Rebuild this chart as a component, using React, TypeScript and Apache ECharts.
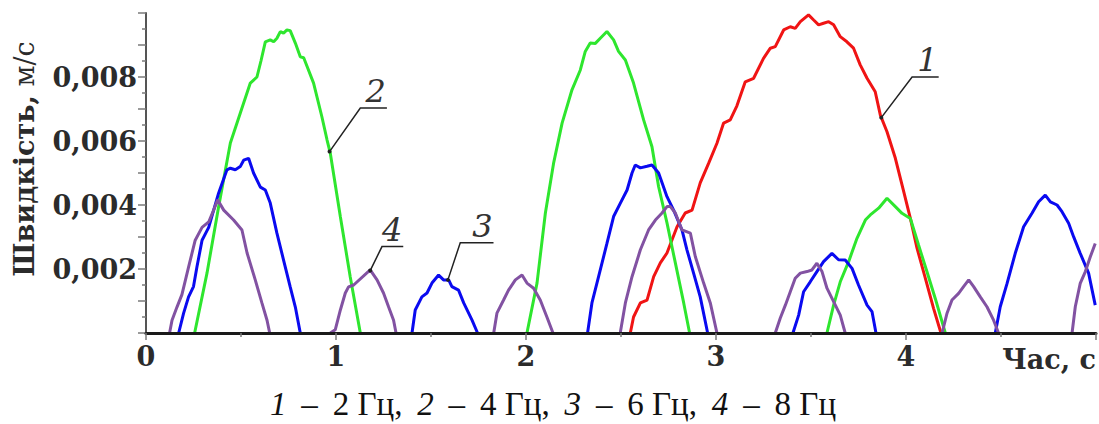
import React, { useEffect, useRef } from 'react';
import * as echarts from 'echarts';

// ---- Data (time, s / speed, m/s); null separates individual humps ----
const t1 = [2.549, 2.566, 2.602, 2.637, 2.672, 2.707, 2.742, 2.795, 2.838, 2.874, 2.917, 2.961, 3.005, 3.04, 3.075, 3.11, 3.154, 3.198, 3.25, 3.286, 3.312, 3.356, 3.391, 3.417, 3.444, 3.487, 3.514, 3.54, 3.566, 3.593, 3.619, 3.654, 3.689, 3.724, 3.759, 3.795, 3.838, 3.865, 3.9, 3.944, 3.988, 4.023, 4.058, 4.102, 4.145, 4.184];
const v1 = [0, 0.0005, 0.00094, 0.00103, 0.00176, 0.00219, 0.0025, 0.00332, 0.00375, 0.00384, 0.00469, 0.0053, 0.00593, 0.00656, 0.00666, 0.0071, 0.00785, 0.00796, 0.00858, 0.0089, 0.00895, 0.00947, 0.00957, 0.00952, 0.00973, 0.00994, 0.00978, 0.00963, 0.00968, 0.00973, 0.00963, 0.00926, 0.0091, 0.0089, 0.00838, 0.00796, 0.00754, 0.00681, 0.00629, 0.00546, 0.00442, 0.00358, 0.00265, 0.00171, 0.00077, 0];

const t2 = [0.256, 0.321, 0.382, 0.444, 0.496, 0.549, 0.584, 0.605, 0.628, 0.654, 0.672, 0.689, 0.707, 0.724, 0.742, 0.759, 0.786, 0.812, 0.83, 0.882, 0.926, 0.953, 0.97, 1.023, 1.075, 1.128,
  null,
  2.005, 2.058, 2.102, 2.145, 2.19, 2.242, 2.286, 2.312, 2.338, 2.365, 2.391, 2.426, 2.461, 2.487, 2.523, 2.566, 2.619, 2.663, 2.698, 2.742, 2.786, 2.83, 2.861,
  null,
  3.584, 3.619, 3.654, 3.698, 3.742, 3.786, 3.812, 3.856, 3.9, 3.944, 3.979, 4.023, 4.066, 4.11, 4.154, 4.207];
const v2 = [0, 0.00187, 0.00394, 0.00594, 0.00687, 0.00781, 0.008, 0.0085, 0.0091, 0.00916, 0.0091, 0.00921, 0.00942, 0.00937, 0.00947, 0.00945, 0.00906, 0.00863, 0.0086, 0.00781, 0.00675, 0.00603, 0.00562, 0.00363, 0.00175, 0,
  null,
  0, 0.00156, 0.00375, 0.0053, 0.00656, 0.0076, 0.00822, 0.0088, 0.00906, 0.00905, 0.00921, 0.00942, 0.00916, 0.0088, 0.00853, 0.00781, 0.00666, 0.00582, 0.00457, 0.00344, 0.00219, 0.00094, 0,
  null,
  0, 0.00087, 0.0016, 0.00223, 0.00296, 0.00353, 0.00369, 0.0039, 0.00421, 0.00395, 0.00374, 0.00358, 0.00275, 0.00192, 0.00108, 0];

const t3 = [0.172, 0.198, 0.224, 0.25, 0.268, 0.295, 0.33, 0.382, 0.426, 0.444, 0.47, 0.496, 0.514, 0.54, 0.566, 0.602, 0.628, 0.654, 0.689, 0.724, 0.759, 0.786, 0.812,
  null,
  1.4, 1.417, 1.452, 1.479, 1.505, 1.54, 1.566, 1.593, 1.61, 1.645, 1.672, 1.716, 1.745,
  null,
  2.324, 2.347, 2.382, 2.426, 2.461, 2.496, 2.532, 2.558, 2.575, 2.602, 2.637, 2.663, 2.698, 2.742, 2.777, 2.821, 2.847, 2.882, 2.917, 2.956,
  null,
  3.405, 3.435, 3.461, 3.496, 3.531, 3.566, 3.61, 3.645, 3.68, 3.716, 3.75, 3.795, 3.821, 3.842,
  null,
  4.47, 4.496, 4.532, 4.575, 4.619, 4.663, 4.698, 4.733, 4.76, 4.795, 4.821, 4.856, 4.882, 4.917, 4.961, 4.996];
const v3 = [0, 0.00062, 0.00113, 0.00145, 0.00206, 0.0029, 0.0033, 0.00437, 0.0051, 0.00515, 0.0051, 0.0052, 0.0054, 0.00546, 0.005, 0.00456, 0.00447, 0.00406, 0.00312, 0.00228, 0.00144, 0.00081, 0,
  null,
  0, 0.00072, 0.00113, 0.00125, 0.00156, 0.00181, 0.00166, 0.00166, 0.00145, 0.00134, 0.00094, 0.0004, 0,
  null,
  0, 0.00094, 0.00176, 0.0028, 0.00364, 0.00405, 0.00447, 0.005, 0.00525, 0.00516, 0.00521, 0.00525, 0.005, 0.00426, 0.00384, 0.00322, 0.0026, 0.00187, 0.00113, 0,
  null,
  0, 0.00056, 0.00129, 0.0016, 0.00192, 0.00223, 0.00249, 0.00229, 0.00228, 0.00202, 0.0015, 0.00087, 0.00067, 0,
  null,
  0, 0.00082, 0.00155, 0.00249, 0.00332, 0.00374, 0.0041, 0.00431, 0.0041, 0.004, 0.00379, 0.00343, 0.00301, 0.00249, 0.00187, 0.00087];

const t4 = [0.124, 0.137, 0.163, 0.189, 0.224, 0.259, 0.295, 0.33, 0.356, 0.377, 0.409, 0.461, 0.505, 0.532, 0.575, 0.61, 0.637, 0.651,
  null,
  0.97, 0.996, 1.023, 1.049, 1.066, 1.093, 1.18, 1.216, 1.25, 1.277, 1.303, 1.316,
  null,
  1.83, 1.847, 1.882, 1.908, 1.944, 1.979, 2.005, 2.04, 2.075, 2.11, 2.142,
  null,
  2.496, 2.523, 2.558, 2.602, 2.645, 2.681, 2.716, 2.742, 2.76, 2.786, 2.821, 2.865, 2.891, 2.935, 2.97, 3.005,
  null,
  3.312, 3.338, 3.365, 3.391, 3.417, 3.444, 3.479, 3.505, 3.531, 3.558, 3.584, 3.619, 3.654, 3.68,
  null,
  4.19, 4.216, 4.242, 4.277, 4.303, 4.33, 4.356, 4.391, 4.426, 4.461, 4.487,
  null,
  4.874, 4.891, 4.917, 4.944, 4.97, 4.996];
const v4 = [0, 0.0004, 0.00081, 0.0012, 0.00206, 0.0029, 0.0033, 0.00347, 0.00384, 0.00416, 0.00384, 0.00353, 0.00322, 0.0025, 0.00166, 0.00094, 0.0004, 0,
  null,
  0, 0.0001, 0.00072, 0.00125, 0.00144, 0.0015, 0.00197, 0.00166, 0.00125, 0.00081, 0.0004, 0,
  null,
  0, 0.00062, 0.00103, 0.00134, 0.00166, 0.00181, 0.00156, 0.0014, 0.00103, 0.0005, 0,
  null,
  0, 0.00094, 0.00176, 0.0026, 0.00322, 0.00353, 0.00375, 0.00395, 0.00395, 0.00375, 0.00322, 0.00312, 0.00239, 0.00156, 0.00094, 0,
  null,
  0, 0.00046, 0.00087, 0.00129, 0.00171, 0.00187, 0.00192, 0.00197, 0.00218, 0.00192, 0.0014, 0.00098, 0.00056, 0,
  null,
  0, 0.00062, 0.00103, 0.00124, 0.00145, 0.00166, 0.00145, 0.00113, 0.00082, 0.0004, 0,
  null,
  0, 0.00082, 0.00155, 0.00192, 0.00238, 0.0028];

const seriesNames = ['1 – 2 Гц', '2 – 4 Гц', '3 – 6 Гц', '4 – 8 Гц'];
const seriesColors = ['#f01414', '#2ee62e', '#0a0af0', '#8252a2'];

const xTickValues = [0, 1, 2, 3, 4];
const xTickLabels = ['0', '1', '2', '3', '4'];
const yTickValues = [0.002, 0.004, 0.006, 0.008];
const yTickLabels = ['0,002', '0,004', '0,006', '0,008'];

const yAxisTitle = ['Швидкість,', 'м/с'];
const xAxisTitle = 'Час, с';

const captionItems = [
  { num: '1', freq: '2 Гц' },
  { num: '2', freq: '4 Гц' },
  { num: '3', freq: '6 Гц' },
  { num: '4', freq: '8 Гц' },
];

// curve callouts: anchor on curve, elbow, end of underline (data coordinates)
const callouts = [
  { label: '1', anchor: [3.87, 0.00673], elbow: [4.032, 0.008], end: [4.172, 0.008] },
  { label: '2', anchor: [0.966, 0.00567], elbow: [1.128, 0.00703], end: [1.268, 0.00703] },
  { label: '3', anchor: [1.589, 0.00166], elbow: [1.654, 0.00282], end: [1.829, 0.00282] },
  { label: '4', anchor: [1.18, 0.00195], elbow: [1.242, 0.0027], end: [1.354, 0.0027] },
];

function toData(t: (number | null)[], v: (number | null)[]) {
  return t.map((x, i) => (x === null || v[i] === null ? ['-', '-'] : [x, v[i]]));
}

function matchLabel(val: number, values: number[], labels: string[]) {
  for (let i = 0; i < values.length; i++) {
    if (Math.abs(val - values[i]) < 1e-9) return labels[i];
  }
  return '';
}

export default function App() {
  const ref = useRef<HTMLDivElement>(null);

  useEffect(() => {
    document.body.style.margin = '0';
    const chart = echarts.init(ref.current!, null, { renderer: 'svg' });
    const font = 'DejaVu Serif';
    const labelColor = '#2b2b2b';
    const ts = [t1, t2, t3, t4];
    const vs = [v1, v2, v3, v4];

    const option: any = {
      animation: false,
      grid: { left: 146, right: 3, top: 13, bottom: 91, containLabel: false },
      xAxis: {
        type: 'value',
        min: 0,
        max: 5,
        interval: 1,
        z: 3,
        axisLine: { show: true, onZero: false, lineStyle: { color: '#1a1a1a', width: 3 } },
        axisTick: { show: true, length: 7, lineStyle: { color: '#7a7a7a', width: 1.5 } },
        minorTick: { show: true, splitNumber: 2, length: 4, lineStyle: { color: '#7a7a7a', width: 1.5 } },
        splitLine: { show: false },
        minorSplitLine: { show: false },
        axisLabel: {
          margin: 10,
          formatter: (v: number) => matchLabel(v, xTickValues, xTickLabels),
          fontFamily: font,
          fontSize: 27,
          fontWeight: 'bold',
          color: labelColor,
        },
      },
      yAxis: {
        type: 'value',
        min: 0,
        max: 0.01,
        interval: 0.001,
        axisLine: { show: true, lineStyle: { color: '#555', width: 2 } },
        axisTick: { show: true, length: 8, lineStyle: { color: '#7a7a7a', width: 1.5 } },
        minorTick: { show: true, splitNumber: 2, length: 4, lineStyle: { color: '#7a7a7a', width: 1.5 } },
        splitLine: { show: false },
        minorSplitLine: { show: false },
        axisLabel: {
          margin: 9,
          padding: [6, 0, 0, 0],
          formatter: (v: number) => matchLabel(v, yTickValues, yTickLabels),
          fontFamily: font,
          fontSize: 27,
          fontWeight: 'bold',
          color: labelColor,
        },
      },
      series: ts.map((t, i) => ({
        name: seriesNames[i],
        type: 'line',
        data: toData(t, vs[i]),
        showSymbol: false,
        symbol: 'none',
        connectNulls: false,
        lineStyle: { color: seriesColors[i], width: 3 },
        itemStyle: { color: seriesColors[i] },
        z: 2,
      })),
    };
    chart.setOption(option);

    const px = (p: number[]) => chart.convertToPixel({ gridIndex: 0 }, p) as number[];
    const graphics: any[] = [];
    callouts.forEach((c) => {
      const A = px(c.anchor);
      const E = px(c.elbow);
      const F = px(c.end);
      graphics.push({
        type: 'polyline',
        z: 20,
        shape: { points: [A, E, F] },
        style: { stroke: '#222', lineWidth: 1.5, fill: 'none' },
      });
      graphics.push({
        type: 'circle',
        z: 21,
        shape: { cx: A[0], cy: A[1], r: 2 },
        style: { fill: '#222' },
      });
      graphics.push({
        type: 'text',
        z: 21,
        x: F[0] - 1,
        y: F[1] - 1,
        style: {
          text: c.label,
          fontFamily: font,
          fontStyle: 'italic',
          fontSize: 32,
          fill: '#333',
          align: 'right',
          verticalAlign: 'bottom',
        },
      });
    });

    // y axis title
    graphics.push({
      type: 'text',
      x: 24,
      y: 159,
      rotation: Math.PI / 2,
      style: {
        text: `{b|${yAxisTitle[0]}}{n| ${yAxisTitle[1]}}`,
        align: 'center',
        verticalAlign: 'middle',
        fill: labelColor,
        rich: {
          b: { fontFamily: font, fontSize: 27, fontWeight: 'bold', fill: labelColor },
          n: { fontFamily: font, fontSize: 27, fontWeight: 'normal', fill: labelColor },
        },
      },
    });

    // x axis title
    graphics.push({
      type: 'text',
      x: 1096,
      y: 359,
      style: {
        text: xAxisTitle,
        fontFamily: font,
        fontSize: 27,
        fontWeight: 'bold',
        fill: labelColor,
        align: 'right',
        verticalAlign: 'middle',
      },
    });

    // caption
    const SP = ' \u2009';
    const capText = captionItems
      .map((c, i) => `{i|${c.num}}{r|${SP}–${SP}${c.freq}${i < captionItems.length - 1 ? ',' + SP : ''}}`)
      .join('');
    const capFont = 'Liberation Serif';
    graphics.push({
      type: 'text',
      x: 553,
      y: 404,
      style: {
        text: capText,
        align: 'center',
        verticalAlign: 'middle',
        fill: '#111',
        rich: {
          i: { fontFamily: capFont, fontSize: 33, fontStyle: 'italic', fill: '#111' },
          r: { fontFamily: capFont, fontSize: 33, fill: '#111' },
        },
      },
    });

    chart.setOption({ graphic: graphics });

    return () => chart.dispose();
  }, []);

  return (
    <div
      ref={ref}
      style={{ position: 'fixed', left: 0, top: 0, width: 1099, height: 424, background: '#fff' }}
    />
  );
}
